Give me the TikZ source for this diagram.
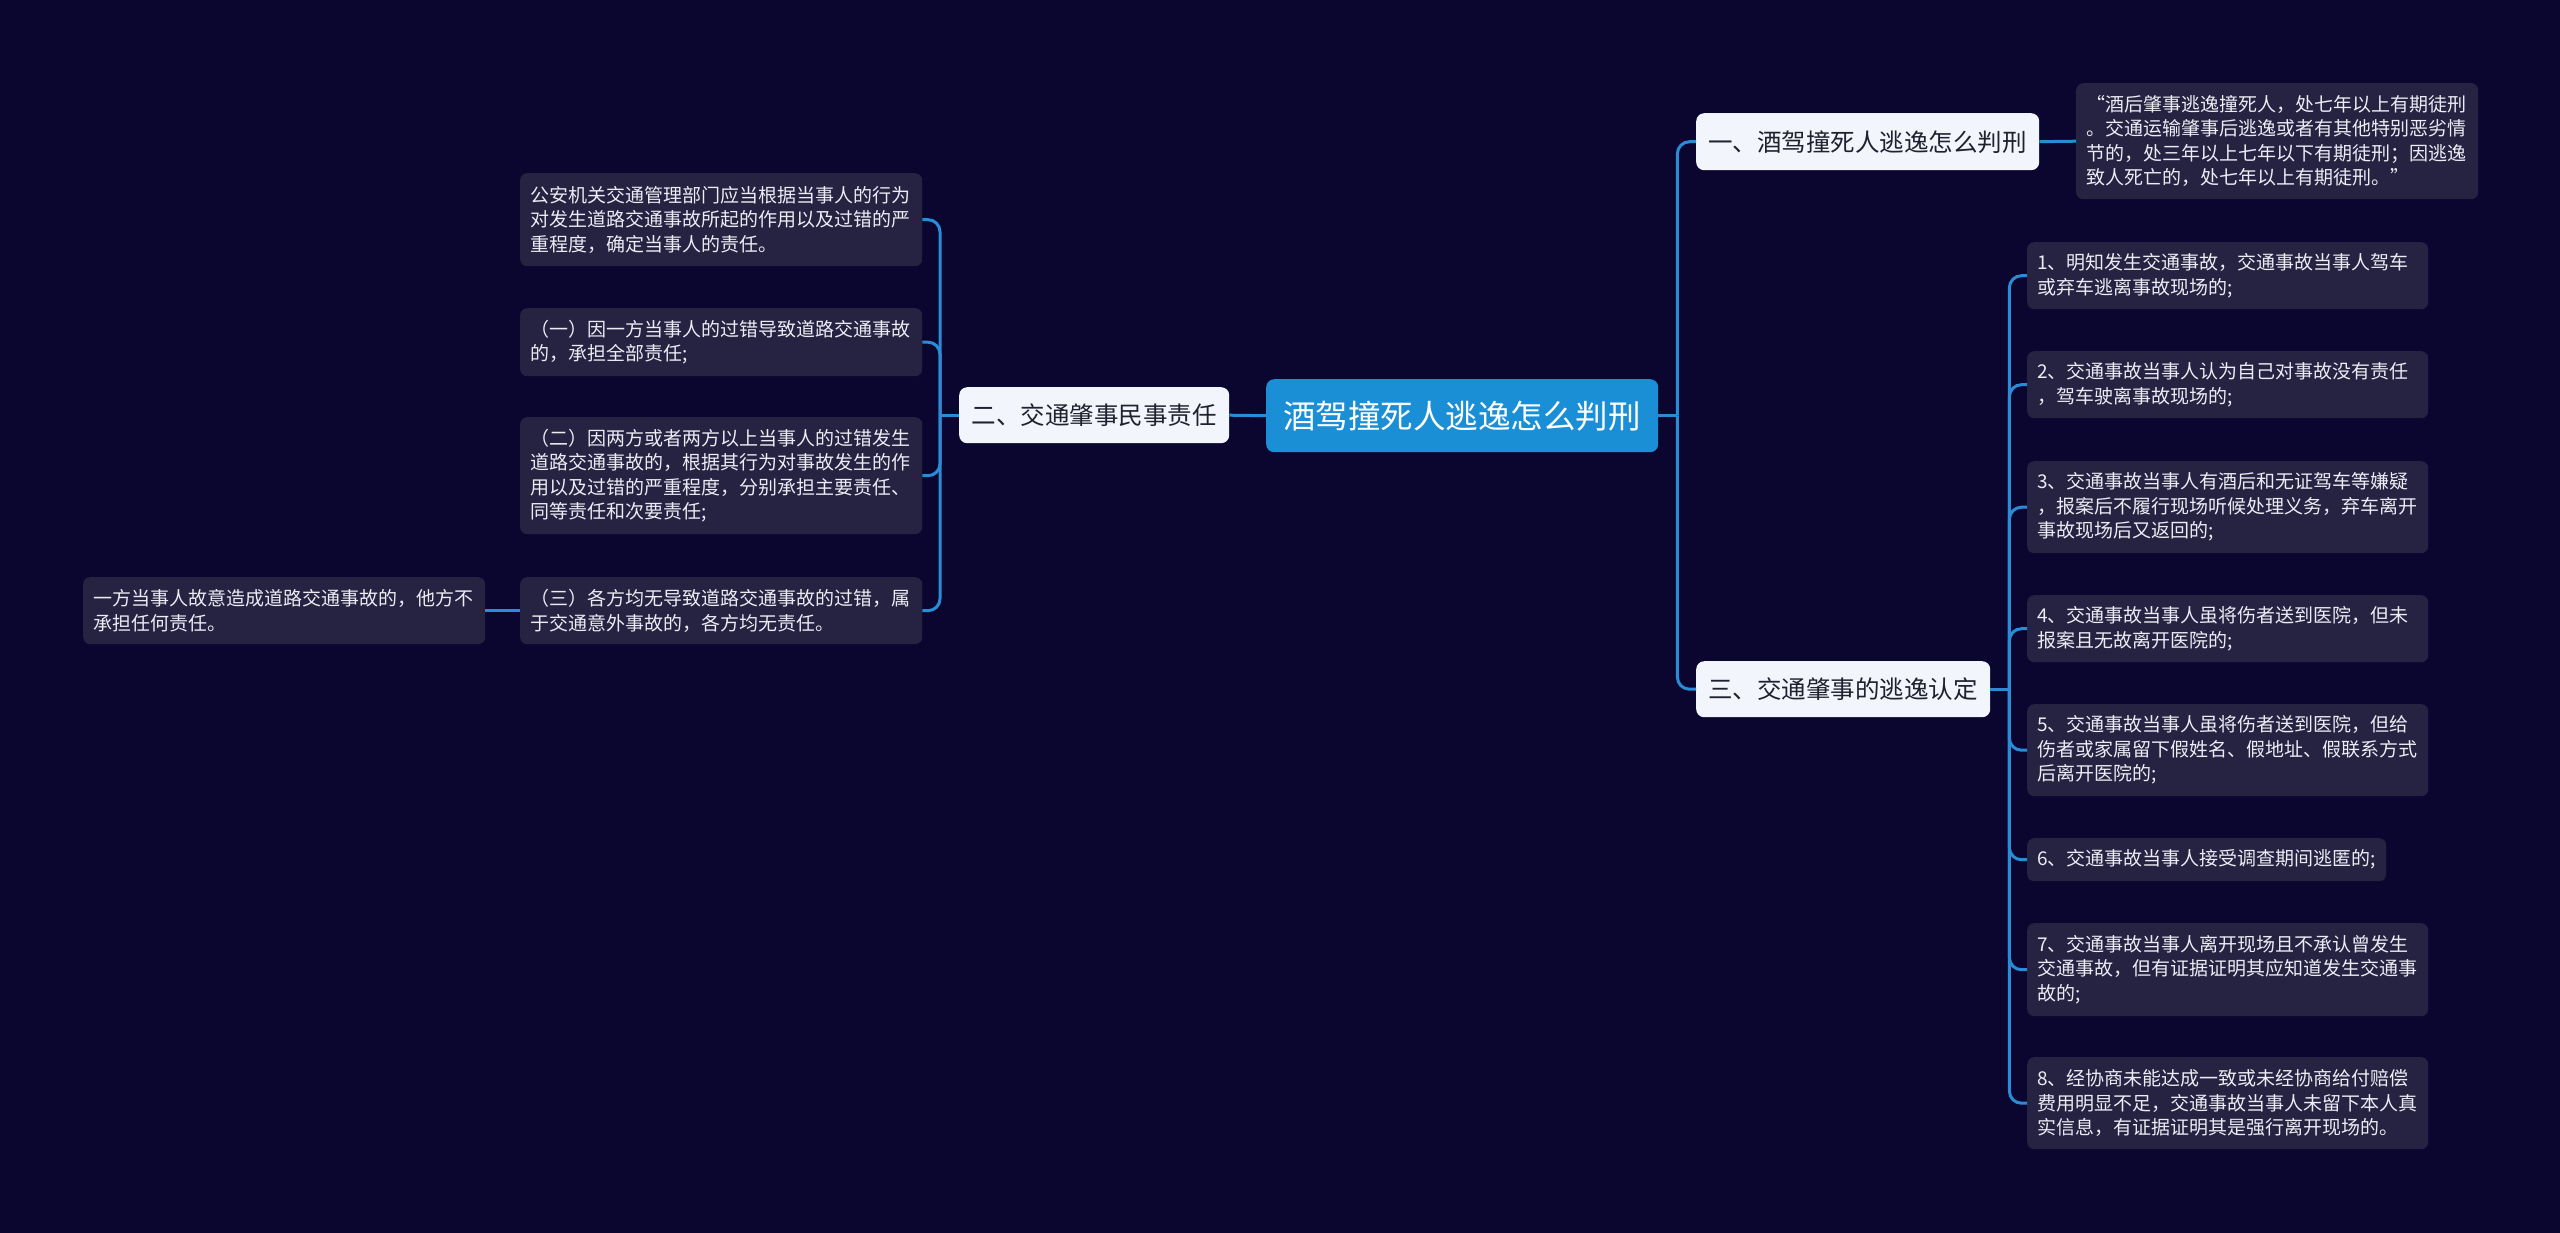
\documentclass[tikz,border=0pt]{standalone}
\usepackage{fontspec}
\setmainfont{Noto Sans CJK SC}
\definecolor{bg}{HTML}{0B0630}
\definecolor{leafc}{HTML}{262242}
\definecolor{rootc}{HTML}{1A8FD6}
\definecolor{mainc}{HTML}{F2F5FC}
\definecolor{linec}{HTML}{2A8CD6}
\definecolor{leaftext}{HTML}{ECECF4}
\definecolor{maintext}{HTML}{20202E}
\begin{document}
\begin{tikzpicture}[x=1pt,y=-1pt,
  leaf/.style={fill=leafc, rounded corners=7pt, text=leaftext, font=\fontsize{19}{24.5}\selectfont, align=left, inner xsep=10pt, inner ysep=0pt, anchor=north west, text width=382pt, minimum width=402pt},
  mainnode/.style={fill=mainc, rounded corners=8pt, text=maintext, font=\fontsize{24.5}{30}\selectfont, inner sep=0pt, anchor=north west},
  rootnode/.style={fill=rootc, rounded corners=8pt, text=white, font=\fontsize{32.5}{40}\selectfont, inner sep=0pt, anchor=north west},
  conn/.style={draw=linec, line width=3pt},
  branch/.style={conn, rounded corners=12pt}]
\useasboundingbox (0,0) rectangle (2560,1232);
\fill[bg] (-4,-4) rectangle (2564,1236);

% main nodes
\node[rootnode, minimum width=392pt, minimum height=73pt] (root) at (1266,379) {酒驾撞死人逃逸怎么判刑};
\node[mainnode, minimum width=270pt, minimum height=56pt] (n2) at (959,387) {二、交通肇事民事责任};
\node[mainnode, minimum width=343pt, minimum height=57pt] (n1) at (1696,113) {一、酒驾撞死人逃逸怎么判刑};
\node[mainnode, minimum width=294pt, minimum height=56pt] (n3) at (1696,661) {三、交通肇事的逃逸认定};

% left leaves
\node[leaf, minimum height=93pt] (L1) at (520,173) {公安机关交通管理部门应当根据当事人的行为\\对发生道路交通事故所起的作用以及过错的严\\重程度，确定当事人的责任。};
\node[leaf, minimum height=68pt] (L2) at (520,308) {（一）因一方当事人的过错导致道路交通事故\\的，承担全部责任;};
\node[leaf, minimum height=117pt] (L3) at (520,417) {（二）因两方或者两方以上当事人的过错发生\\道路交通事故的，根据其行为对事故发生的作\\用以及过错的严重程度，分别承担主要责任、\\同等责任和次要责任;};
\node[leaf, minimum height=67pt] (L4) at (520,577) {（三）各方均无导致道路交通事故的过错，属\\于交通意外事故的，各方均无责任。};
\node[leaf, minimum height=67pt] (LL) at (83,577) {一方当事人故意造成道路交通事故的，他方不\\承担任何责任。};

% right leaves
\node[leaf, minimum height=116pt] (q) at (2076,83) {“酒后肇事逃逸撞死人，处七年以上有期徒刑\\。交通运输肇事后逃逸或者有其他特别恶劣情\\节的，处三年以上七年以下有期徒刑；因逃逸\\致人死亡的，处七年以上有期徒刑。”};
\node[leaf, text width=381pt, minimum width=401pt, minimum height=67pt] (I1) at (2027,242) {1、明知发生交通事故，交通事故当事人驾车\\或弃车逃离事故现场的;};
\node[leaf, text width=381pt, minimum width=401pt, minimum height=67pt] (I2) at (2027,351) {2、交通事故当事人认为自己对事故没有责任\\，驾车驶离事故现场的;};
\node[leaf, text width=381pt, minimum width=401pt, minimum height=92pt] (I3) at (2027,461) {3、交通事故当事人有酒后和无证驾车等嫌疑\\，报案后不履行现场听候处理义务，弃车离开\\事故现场后又返回的;};
\node[leaf, text width=381pt, minimum width=401pt, minimum height=67pt] (I4) at (2027,595) {4、交通事故当事人虽将伤者送到医院，但未\\报案且无故离开医院的;};
\node[leaf, text width=381pt, minimum width=401pt, minimum height=92pt] (I5) at (2027,704) {5、交通事故当事人虽将伤者送到医院，但给\\伤者或家属留下假姓名、假地址、假联系方式\\后离开医院的;};
\node[leaf, text width=339pt, minimum width=359pt, minimum height=43pt] (I6) at (2027,838) {6、交通事故当事人接受调查期间逃匿的;};
\node[leaf, text width=381pt, minimum width=401pt, minimum height=93pt] (I7) at (2027,923) {7、交通事故当事人离开现场且不承认曾发生\\交通事故，但有证据证明其应知道发生交通事\\故的;};
\node[leaf, text width=381pt, minimum width=401pt, minimum height=92pt] (I8) at (2027,1057) {8、经协商未能达成一致或未经协商给付赔偿\\费用明显不足，交通事故当事人未留下本人真\\实信息，有证据证明其是强行离开现场的。};

% junctions
\coordinate (JL) at ([xshift=-19pt]n2.west);
\coordinate (JR) at ([xshift=19pt]root.east);
\coordinate (J3) at ([xshift=19pt]n3.east);

% connectors
\draw[conn] (root.west) -- (n2.east);
\draw[conn] (n2.west) -- (JL);
\foreach \c in {L1,L2,L3,L4} \draw[branch] (JL) |- (\c.east);
\draw[conn] (L4.west) -- (LL.east);
\draw[conn] (root.east) -- (JR);
\draw[branch] (JR) |- (n1.west);
\draw[branch] (JR) |- (n3.west);
\draw[conn] (n1.east) -- (q.west);
\draw[conn] (n3.east) -- (J3);
\foreach \c in {I1,I2,I3,I4,I5,I6,I7,I8} \draw[branch] (J3) |- (\c.west);
\end{tikzpicture}
\end{document}
